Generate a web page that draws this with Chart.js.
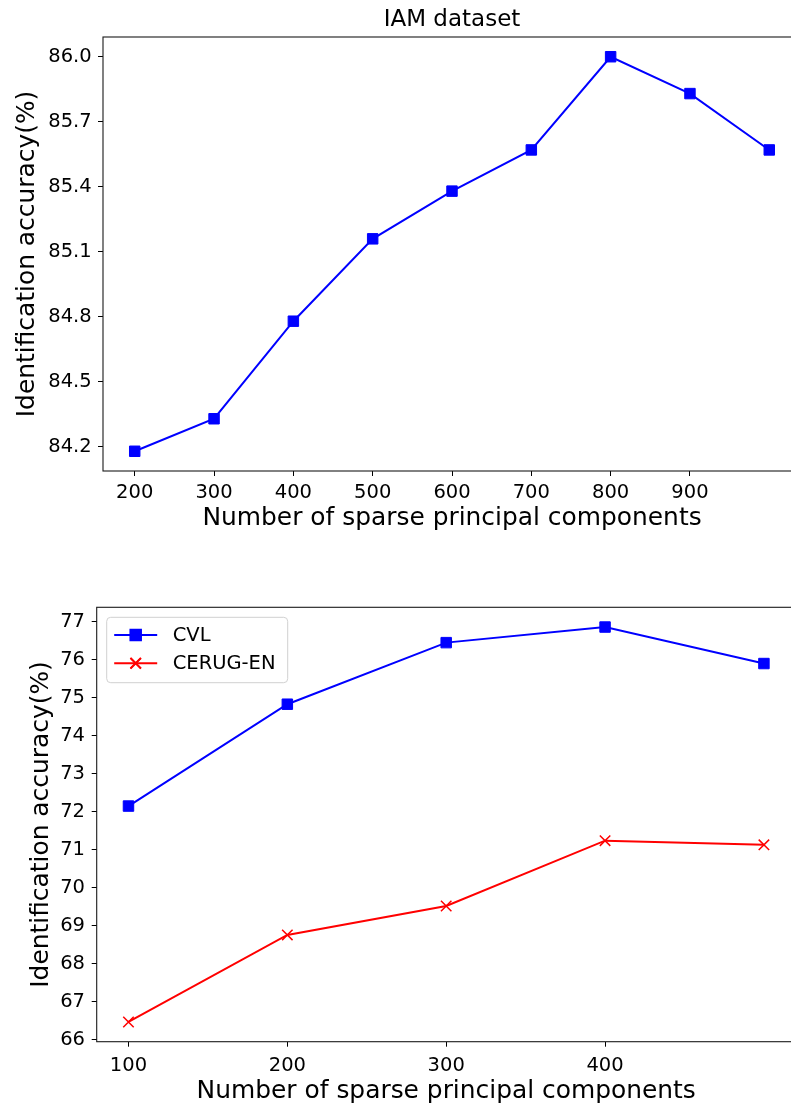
<!DOCTYPE html>
<html>
<head>
<meta charset="utf-8">
<script src="https://cdn.jsdelivr.net/npm/chart.js@4/dist/chart.umd.min.js"></script>
<style>
  html, body { margin: 0; padding: 0; background: #fff; overflow: hidden; }
  body { width: 791px; height: 1104px; position: relative; }
  canvas { position: absolute; left: 0; }
  #iam { top: 0; }
  #spc { top: 560px; }
</style>
</head>
<body>
<canvas id="iam" width="830" height="560"></canvas>
<canvas id="spc" width="830" height="550"></canvas>
<script>
// IAM: accuracy vs. number of sparse principal components
const iamComponents = [200, 300, 400, 500, 600, 700, 800, 900, 1000];
const iamAccuracy   = [84.18, 84.33, 84.78, 85.16, 85.38, 85.57, 86.00, 85.83, 85.57];
const iamXTicks     = [200, 300, 400, 500, 600, 700, 800, 900];
const iamYTicks     = [84.2, 84.5, 84.8, 85.1, 85.4, 85.7, 86.0];

// CVL and CERUG-EN
const spcComponents = [100, 200, 300, 400, 500];
const cvlAccuracy   = [72.15, 74.83, 76.45, 76.86, 75.90];
const cerugAccuracy = [66.47, 68.76, 69.52, 71.24, 71.13];
const spcXTicks     = [100, 200, 300, 400];
const spcYTicks     = [66, 67, 68, 69, 70, 71, 72, 73, 74, 75, 76, 77];

const FONT = "'DejaVu Sans', 'Liberation Sans', sans-serif";
const TICK_SIZE = 19.5;
const LABEL_SIZE = 24.9;

// axis limits padded by 5% of the data span on each side
function padded(values) {
  const lo = Math.min(...values), hi = Math.max(...values);
  const m = (hi - lo) * 0.05;
  return [lo - m, hi + m];
}

function points(xs, ys) {
  return xs.map((x, i) => ({ x, y: ys[i] }));
}

// full box around the plotting area
const frame = {
  id: 'frame',
  afterDatasetsDraw(chart) {
    const { ctx, chartArea: a } = chart;
    ctx.save();
    ctx.strokeStyle = '#1a1a1a';
    ctx.lineWidth = 1.1;
    ctx.strokeRect(a.left, a.top, a.right - a.left, a.bottom - a.top);
    ctx.restore();
  }
};

// legend box in the upper-left corner of the plotting area
const insetLegend = {
  id: 'insetLegend',
  afterDraw(chart, args, opts) {
    if (!opts || !opts.show) return;
    const { ctx, chartArea: a } = chart;
    const x = a.left + 10, y = a.top + 10, w = 181, h = 65.4;
    ctx.save();
    ctx.beginPath();
    ctx.roundRect(x, y, w, h, 4);
    ctx.fillStyle = 'rgba(255,255,255,0.8)';
    ctx.fill();
    ctx.strokeStyle = '#d0d0d0';
    ctx.lineWidth = 1;
    ctx.stroke();
    chart.data.datasets.forEach((ds, i) => {
      const cy = y + 17.7 + i * 28.3;
      ctx.strokeStyle = ds.borderColor;
      ctx.lineWidth = ds.borderWidth;
      ctx.beginPath();
      ctx.moveTo(x + 7.5, cy);
      ctx.lineTo(x + 50.5, cy);
      ctx.stroke();
      Chart.helpers.drawPoint(ctx, {
        pointStyle: ds.pointStyle,
        radius: ds.pointRadius,
        borderWidth: ds.pointBorderWidth,
        rotation: 0
      }, x + 29, cy);
      ctx.fillStyle = ds.pointBackgroundColor;
      ctx.strokeStyle = ds.pointBorderColor;
      ctx.lineWidth = ds.pointBorderWidth;
      if (ds.pointStyle === 'rect') ctx.fill();
      ctx.stroke();
      ctx.fillStyle = '#000';
      ctx.font = TICK_SIZE + 'px ' + FONT;
      ctx.textBaseline = 'middle';
      ctx.textAlign = 'left';
      ctx.fillText(ds.label, x + 66, cy + 1);
    });
    ctx.restore();
  }
};

function axis(opts) {
  return {
    type: 'linear',
    position: opts.position,
    min: opts.min,
    max: opts.max,
    afterBuildTicks: s => { s.ticks = opts.ticks.map(v => ({ value: v })); },
    afterFit: s => {
      if (opts.position === 'left') s.width = opts.size; else s.height = opts.size;
    },
    grid: { display: true, drawOnChartArea: false, drawTicks: true, tickLength: 5, color: '#000', lineWidth: 1 },
    border: { display: false },
    ticks: {
      autoSkip: false,
      maxRotation: 0,
      padding: opts.tickPad,
      color: '#000',
      font: { family: FONT, size: TICK_SIZE },
      callback: opts.format
    },
    title: {
      display: true,
      text: opts.title,
      color: '#000',
      font: { family: FONT, size: LABEL_SIZE },
      padding: opts.titlePad
    }
  };
}

function lineSet(label, xs, ys, color, style) {
  return {
    label,
    data: points(xs, ys),
    borderColor: color,
    backgroundColor: color,
    borderWidth: 2,
    pointStyle: style,
    pointRadius: 7.4,
    pointHoverRadius: 7.4,
    pointBorderWidth: style === 'rect' ? 1 : 1.5,
    pointBackgroundColor: color,
    pointBorderColor: color,
    tension: 0,
    fill: false
  };
}

Chart.defaults.font.family = FONT;

const [iamYMin, iamYMax] = padded(iamAccuracy);
const [iamXMin, iamXMax] = padded(iamComponents);

new Chart(document.getElementById('iam'), {
  type: 'line',
  data: { datasets: [lineSet('IAM', iamComponents, iamAccuracy, '#0000ff', 'rect')] },
  options: {
    responsive: false,
    animation: false,
    devicePixelRatio: 1,
    layout: { padding: { left: 0, right: 29, top: 0, bottom: 0 } },
    plugins: {
      legend: { display: false },
      tooltip: { enabled: false },
      title: {
        display: true,
        text: 'IAM dataset',
        color: '#000',
        fullSize: false,
        font: { family: FONT, size: 23, weight: 'normal', lineHeight: 1.2 },
        padding: { top: 6.2, bottom: 3.2 }
      }
    },
    scales: {
      x: axis({ position: 'bottom', min: iamXMin, max: iamXMax, ticks: iamXTicks, size: 89,
                tickPad: 5.5, title: 'Number of sparse principal components',
                titlePad: { top: 0, bottom: 27.0 }, format: v => String(v) }),
      y: axis({ position: 'left', min: iamYMin, max: iamYMax, ticks: iamYTicks, size: 103,
                tickPad: 6.3, title: 'Identification accuracy(%)',
                titlePad: { top: 12.6, bottom: 0 }, format: v => v.toFixed(1) })
    }
  },
  plugins: [frame]
});

const [spcYMin, spcYMax] = padded(cvlAccuracy.concat(cerugAccuracy));
const [spcXMin, spcXMax] = padded(spcComponents);

new Chart(document.getElementById('spc'), {
  type: 'line',
  data: {
    datasets: [
      lineSet('CVL', spcComponents, cvlAccuracy, '#0000ff', 'rect'),
      lineSet('CERUG-EN', spcComponents, cerugAccuracy, '#ff0000', 'crossRot')
    ]
  },
  options: {
    responsive: false,
    animation: false,
    devicePixelRatio: 1,
    layout: { padding: { left: 0, right: 34.3, top: 47.3, bottom: 0 } },
    plugins: {
      legend: { display: false },
      tooltip: { enabled: false },
      insetLegend: { show: true }
    },
    scales: {
      x: axis({ position: 'bottom', min: spcXMin, max: spcXMax, ticks: spcXTicks, size: 68.3,
                tickPad: 8, title: 'Number of sparse principal components',
                titlePad: { top: 0, bottom: 3.5 }, format: v => String(v) }),
      y: axis({ position: 'left', min: spcYMin, max: spcYMax, ticks: spcYTicks, size: 96.7,
                tickPad: 6.7, title: 'Identification accuracy(%)',
                titlePad: { top: 26.1, bottom: 0 }, format: v => String(v) })
    }
  },
  plugins: [frame, insetLegend]
});
</script>
</body>
</html>
